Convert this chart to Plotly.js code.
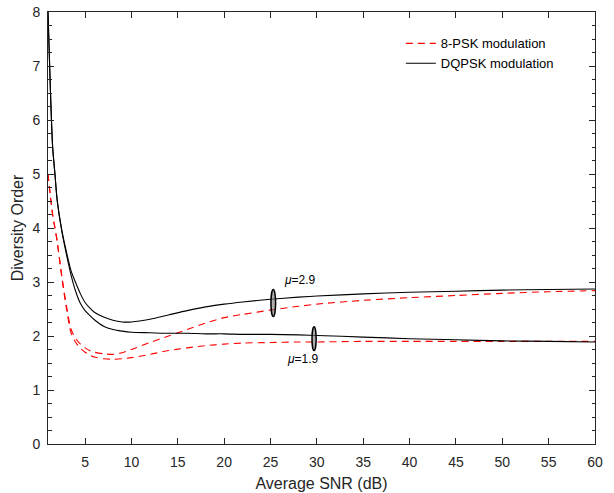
<!DOCTYPE html>
<html>
<head>
<meta charset="utf-8">
<script src="https://cdn.plot.ly/plotly-3.0.1.min.js"></script>
<style>html,body{margin:0;padding:0;background:#fff;}#chart{width:614px;height:493px;}</style>
</head>
<body>
<div id="chart"></div>
<script>
const snr = [1,1.25,1.5,1.75,2,2.5,3,3.5,4,4.5,5,5.5,6,7,8,9,10,12,14,16,18,20,22,25,28,30,35,40,45,50,55,60];

const dqpskMu29 = [8.0,6.6,5.5,5.0,4.5,3.95,3.55,3.2,2.98,2.78,2.62,2.52,2.44,2.35,2.29,2.26,2.26,2.31,2.39,2.47,2.54,2.59,2.63,2.68,2.72,2.74,2.78,2.81,2.83,2.85,2.86,2.87];
const dqpskMu19 = [8.0,6.6,5.5,5.0,4.5,3.93,3.5,3.12,2.82,2.60,2.47,2.38,2.30,2.18,2.12,2.09,2.07,2.06,2.05,2.05,2.04,2.04,2.03,2.03,2.02,2.01,1.98,1.95,1.93,1.91,1.90,1.89];
const psk8Mu29 = [5.0,4.6,4.25,4.0,3.75,3.1,2.55,2.12,1.95,1.85,1.78,1.73,1.70,1.67,1.66,1.69,1.75,1.88,2.00,2.12,2.24,2.34,2.40,2.48,2.55,2.59,2.66,2.71,2.75,2.79,2.82,2.84];
const psk8Mu19 = [5.0,4.6,4.25,4.0,3.73,3.07,2.5,2.05,1.88,1.77,1.70,1.65,1.61,1.58,1.57,1.58,1.60,1.66,1.73,1.78,1.82,1.85,1.87,1.88,1.89,1.89,1.90,1.90,1.90,1.90,1.90,1.90];

const xTicks = [5,10,15,20,25,30,35,40,45,50,55,60];
const yTicks = [0,1,2,3,4,5,6,7,8];
const seriesNames = ['8-PSK modulation','DQPSK modulation'];
const muLabels = ['<i>μ</i>=2.9','<i>μ</i>=1.9'];
const muLabelPos = [[28.2,3.04],[28.5,1.57]];
const ellipseCenters = [[25.3,2.61],[29.7,1.95]];
const ellipseSizes = [[0.5,0.5],[0.45,0.44]];

const red = '#ff0000';
const FONT = 'Liberation Sans, Arial, sans-serif';
const traces = [
  {x: snr, y: psk8Mu29, mode:'lines', name: seriesNames[0], line:{color:red, width:1.1, dash:'7px,5px', shape:'spline', smoothing:0.8}},
  {x: snr, y: psk8Mu19, mode:'lines', name: seriesNames[0], line:{color:red, width:1.1, dash:'7px,5px', shape:'spline', smoothing:0.8}, showlegend:false},
  {x: snr, y: dqpskMu29, mode:'lines', name: seriesNames[1], line:{color:'#000000', width:1.1, shape:'spline', smoothing:0.8}},
  {x: snr, y: dqpskMu19, mode:'lines', name: seriesNames[1], line:{color:'#000000', width:1.1, shape:'spline', smoothing:0.8}, showlegend:false}
];

const shapes = ellipseCenters.map((c,i)=>({
  type:'circle', xref:'x', yref:'y',
  x0:c[0]-ellipseSizes[i][0]/2, x1:c[0]+ellipseSizes[i][0]/2,
  y0:c[1]-ellipseSizes[i][1]/2, y1:c[1]+ellipseSizes[i][1]/2,
  line:{color:'#000', width:1.5}, fillcolor:'rgba(120,120,120,0.6)'
}));

const annotations = muLabels.map((t,i)=>({
  x: muLabelPos[i][0], y: muLabelPos[i][1], xref:'x', yref:'y', text:t, showarrow:false,
  font:{family:FONT, size:12, color:'#000'}
}));

const axisCommon = {
  showgrid:false, zeroline:false, showline:true, linecolor:'#262626', linewidth:1,
  mirror:'ticks', ticks:'inside', tickcolor:'#262626', tickwidth:1, ticklen:6,
  tickfont:{family:FONT, size:14, color:'#262626'}
};

const layout = {
  width:614, height:493,
  margin:{l:48, r:19, t:12, b:49},
  paper_bgcolor:'#fff', plot_bgcolor:'#fff',
  font:{family:FONT, color:'#262626'},
  showlegend:true,
  legend:{x:0.645, y:0.962, xanchor:'left', yanchor:'top', bgcolor:'rgba(0,0,0,0)', borderwidth:0,
    font:{family:FONT, size:13, color:'#000'}, tracegroupgap:0},
  xaxis: Object.assign({}, axisCommon, {
    range:[1,60], tickmode:'array', tickvals:xTicks, ticktext:xTicks.map(String),
    ticklabelstandoff:5,
    title:{text:'Average SNR (dB)', font:{family:FONT, size:16, color:'#262626'}, standoff:9}
  }),
  yaxis: Object.assign({}, axisCommon, {
    range:[0,8], tickmode:'array', tickvals:yTicks, ticktext:yTicks.map(String),
    ticklabelstandoff:4,
    minor:{dtick:0.25, ticks:'inside', ticklen:3.5, tickcolor:'#262626', showgrid:false},
    title:{text:'Diversity Order', font:{family:FONT, size:16, color:'#262626'}, standoff:4}
  }),
  shapes: shapes,
  annotations: annotations
};

Plotly.newPlot('chart', traces, layout, {staticPlot:true, displayModeBar:false});
</script>
</body>
</html>
